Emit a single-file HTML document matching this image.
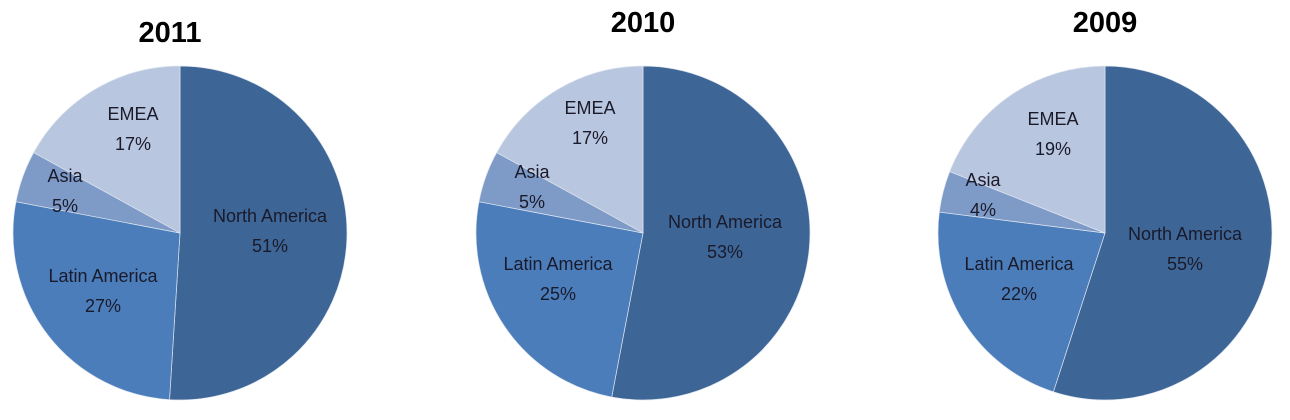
<!DOCTYPE html>
<html><head><meta charset="utf-8"><style>
body{margin:0;background:#fff;width:1290px;height:415px;overflow:hidden}
svg text{font-family:"Liberation Sans",sans-serif}
</style></head><body>
<svg id="c" width="1290" height="415"></svg>
<script>
const years = ["2011","2010","2009"];
const regions = ["North America","Latin America","Asia","EMEA"];
const values2011 = [51,27,5,17];
const values2010 = [53,25,5,17];
const values2009 = [55,22,4,19];
const allValues = [values2011, values2010, values2009];
const colors = ["#3d6596","#4a7dba","#7e9bc8","#b9c6df"];
const centers = [[180,233],[643,233],[1105,233]];
const titlePos = [[170,42],[643,32],[1105,32]];
const labelOffsets = [
 [[90,-11],[-77,49],[-115,-51],[-47,-113]],
 [[82,-5],[-85,37],[-111,-55],[-53,-119]],
 [[80,7],[-86,37],[-122,-47],[-52,-108]]
];
const R = 167;
const svg = document.getElementById('c');
const NS = "http://www.w3.org/2000/svg";
function pt(cx,cy,f){const a=f*2*Math.PI;return [cx+R*Math.sin(a),cy-R*Math.cos(a)];}
allValues.forEach((vals,pi)=>{
  const [cx,cy]=centers[pi];
  const g=document.createElementNS(NS,'g');
  
  
  svg.appendChild(g);
  const t=document.createElementNS(NS,'text');
  
  
  t.setAttribute('x',titlePos[pi][0]);t.setAttribute('y',titlePos[pi][1]);
  t.setAttribute('text-anchor','middle');t.setAttribute('font-size','29');t.setAttribute('font-weight','bold');
  t.textContent=years[pi];g.appendChild(t);
  const total=vals.reduce((a,b)=>a+b,0);let acc=0;
  vals.forEach((v,i)=>{
    const f0=acc/total,f1=(acc+v)/total;acc+=v;
    const [x0,y0]=pt(cx,cy,f0),[x1,y1]=pt(cx,cy,f1);
    const p=document.createElementNS(NS,'path');
    
    
    p.setAttribute('d',`M${cx},${cy}L${x0},${y0}A${R},${R} 0 ${f1-f0>0.5?1:0} 1 ${x1},${y1}Z`);
    p.setAttribute('fill',colors[i]);p.setAttribute('stroke','#dfe6f0');p.setAttribute('stroke-width','0.7');
    g.appendChild(p);
  });
  vals.forEach((v,i)=>{
    const [dx,dy]=labelOffsets[pi][i];
    const l=document.createElementNS(NS,'text');
    
    
    l.setAttribute('x',cx+dx);l.setAttribute('y',cy+dy);
    l.setAttribute('text-anchor','middle');l.setAttribute('font-size','18');l.setAttribute('fill','#1a1a2a');
    const s1=document.createElementNS(NS,'tspan');s1.setAttribute('x',cx+dx);s1.textContent=regions[i];
    const s2=document.createElementNS(NS,'tspan');s2.setAttribute('x',cx+dx);s2.setAttribute('dy','30');s2.textContent=v+'%';
    l.appendChild(s1);l.appendChild(s2);g.appendChild(l);
  });
});
</script>
</body></html>
